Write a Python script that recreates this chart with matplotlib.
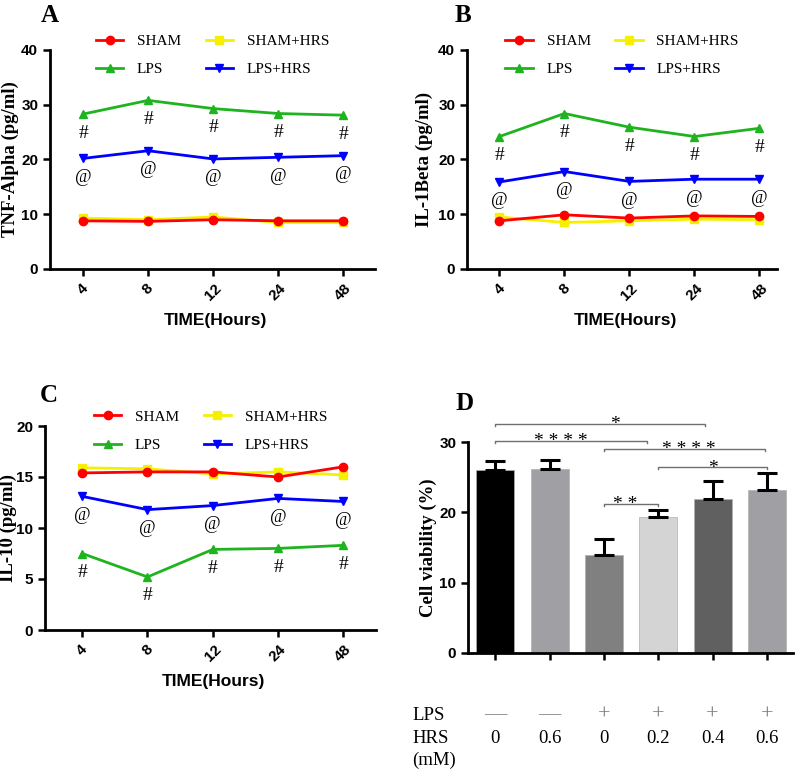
import matplotlib
matplotlib.use("Agg")
import matplotlib.pyplot as plt

SERIF = "Liberation Serif"
SANS = "Liberation Sans"

hours = ["4", "8", "12", "24", "48"]

# panel A - TNF-Alpha
tnf_sham = [8.8, 8.7, 9.0, 8.8, 8.8]
tnf_sham_hrs = [9.3, 9.0, 9.5, 8.5, 8.5]
tnf_lps = [28.3, 30.8, 29.3, 28.4, 28.1]
tnf_lps_hrs = [20.2, 21.6, 20.1, 20.4, 20.7]

# panel B - IL-1Beta
il1_sham = [8.8, 9.9, 9.3, 9.7, 9.6]
il1_sham_hrs = [9.5, 8.5, 8.8, 9.1, 9.0]
il1_lps = [24.2, 28.4, 25.9, 24.2, 25.7]
il1_lps_hrs = [15.9, 17.8, 16.0, 16.4, 16.4]

# panel C - IL-10
il10_sham = [15.4, 15.5, 15.5, 15.0, 16.0]
il10_sham_hrs = [15.9, 15.8, 15.3, 15.5, 15.2]
il10_lps = [7.5, 5.2, 7.9, 8.0, 8.3]
il10_lps_hrs = [13.1, 11.8, 12.2, 12.9, 12.6]

# panel D - cell viability
viab = [26.0, 26.1, 13.9, 19.3, 21.9, 23.2]
viab_err = [1.3, 1.3, 2.3, 1.0, 2.6, 2.4]
bar_colors = ["#000000", "#a0a0a4", "#808080", "#d4d4d4", "#606060", "#a0a0a4"]
lps_row = ["\u2014", "\u2014", "+", "+", "+", "+"]
hrs_row = ["0", "0.6", "0", "0.2", "0.4", "0.6"]
# (start, end, height, label, label x)
brackets = [(0, 3.86, 32.6, "*", 2.2), (0, 2.79, 30.2, "****", 1.2),
            (2, 4.97, 29.0, "****", 3.56), (3, 5, 26.4, "*", 4.0),
            (2, 3, 21.2, "**", 2.4)]

names = ["SHAM", "SHAM+HRS", "LPS", "LPS+HRS"]
colors = ["#ff0000", "#f5f000", "#1fb41f", "#0000ff"]
markers = ["o", "s", "^", "v"]

W, H = 797, 770
fig = plt.figure(figsize=(W / 100, H / 100), dpi=100)


def box(l, t, r, b):
    return [l / W, 1 - b / H, (r - l) / W, (b - t) / H]


def style_axes(ax):
    for s in ["top", "right"]:
        ax.spines[s].set_visible(False)
    for s in ["left", "bottom"]:
        ax.spines[s].set_linewidth(2)
    ax.tick_params(direction="out", length=5, width=1.8)
    for lab in ax.get_yticklabels():
        lab.set_fontfamily(SANS)
        lab.set_fontweight("bold")
        lab.set_fontsize(11)


def line_panel(rect, series, ylim, yticks, ylabel, letter, xlim, lab_x, xlab_y, letter_xy):
    ax = fig.add_axes(box(*rect))
    x = list(range(len(hours)))
    handles = {}
    for i in [1, 0, 2, 3]:
        h, = ax.plot(x, series[i], color=colors[i], marker=markers[i], lw=2,
                     ms=6, clip_on=False, zorder=3 + (i == 0))
        handles[i] = h
    ax.set_ylim(*ylim)
    ax.set_yticks(yticks)
    ax.set_xlim(*xlim)
    ax.set_xticks(x)
    ax.set_xticklabels(hours, rotation=45, ha="center", fontfamily=SANS,
                       fontweight="bold", fontsize=11)
    style_axes(ax)
    ax.set_ylabel(ylabel, fontfamily=SERIF, fontweight="bold", fontsize=13.5)
    ax.yaxis.set_label_coords(lab_x, 0.5)
    ax.set_xlabel("TIME(Hours)", fontfamily=SANS, fontweight="bold", fontsize=12.5)
    ax.xaxis.set_label_coords(0.51, xlab_y)
    ax.legend([handles[0], handles[2], handles[1], handles[3]],
              [names[0], names[2], names[1], names[3]], ncol=2,
              frameon=False, loc="center", bbox_to_anchor=(0.5, 0.975),
              prop={"family": SERIF, "size": 11}, handlelength=1.8,
              columnspacing=1.6, labelspacing=0.95, handletextpad=0.9)
    # significance marks under LPS (#) and LPS+HRS (@)
    for xi in x:
        ax.annotate("#", (xi, series[2][xi]), xytext=(0, -19), textcoords="offset pixels",
                    ha="center", va="center", fontfamily=SERIF, fontsize=14)
        ax.annotate("@", (xi, series[3][xi]), xytext=(0, -19), textcoords="offset pixels",
                    ha="center", va="center", fontfamily=SERIF, fontsize=13)
    fig.text(letter_xy[0] / W, 1 - letter_xy[1] / H, letter, fontfamily=SERIF,
             fontweight="bold", fontsize=18, ha="center", va="center")
    return ax


line_panel((50, 50, 375, 269), [tnf_sham, tnf_sham_hrs, tnf_lps, tnf_lps_hrs],
           (0, 40), [0, 10, 20, 30, 40], "TNF-Alpha (pg/ml)", "A",
           (-0.51, 4.49), -0.095, -0.2, (50, 15))
line_panel((467, 50, 777, 269), [il1_sham, il1_sham_hrs, il1_lps, il1_lps_hrs],
           (0, 40), [0, 10, 20, 30, 40], "IL-1Beta (pg/ml)", "B",
           (-0.5, 4.27), -0.11, -0.2, (463, 15))
line_panel((45, 426, 376, 630), [il10_sham, il10_sham_hrs, il10_lps, il10_lps_hrs],
           (0, 20), [0, 5, 10, 15, 20], "IL-10 (pg/ml)", "C",
           (-0.57, 4.5), -0.085, -0.215, (49, 396))

# panel D
axd = fig.add_axes(box(468, 442, 793, 653))
xb = list(range(len(viab)))
axd.bar(xb, viab, width=0.7, color=bar_colors, edgecolor="#b0b0b0", linewidth=0.5)
axd.errorbar(xb, viab, yerr=[[0] * len(viab), viab_err], fmt="none", ecolor="black",
             elinewidth=2.2, capsize=7, capthick=2.2)
axd.set_ylim(0, 30)
axd.set_yticks([0, 10, 20, 30])
axd.set_xlim(-0.5, 5.48)
axd.set_xticks(xb)
axd.set_xticklabels([])
style_axes(axd)
axd.set_ylabel("Cell viability (%)", fontfamily=SERIF, fontweight="bold", fontsize=13.5)
axd.yaxis.set_label_coords(-0.095, 0.5)
for x1, x2, y, lab, lx in brackets:
    axd.plot([x1, x1, x2, x2], [y - 0.3, y, y, y - 0.3], color="#707070", lw=1,
             clip_on=False)
    axd.text(lx, y - 0.75, " ".join(lab), ha="center", va="baseline",
             fontfamily=SERIF, fontsize=14, clip_on=False)
tr = axd.get_xaxis_transform()
for yy, lab in [(-0.294, "LPS"), (-0.403, "HRS"), (-0.507, "(mM)")]:
    axd.text(-1.53, yy, lab, transform=tr, ha="left", va="center",
             fontfamily=SERIF, fontsize=13.5)
for xi in xb:
    axd.text(xi, -0.294, lps_row[xi], transform=tr, ha="center", va="center",
             fontfamily=SERIF, fontsize=16, color="#808080")
    axd.text(xi, -0.403, hrs_row[xi], transform=tr, ha="center", va="center",
             fontfamily=SERIF, fontsize=13.5)
fig.text(465 / W, 1 - 404 / H, "D", fontfamily=SERIF, fontweight="bold", fontsize=18,
         ha="center", va="center")

fig.savefig("out.png", dpi=100)
